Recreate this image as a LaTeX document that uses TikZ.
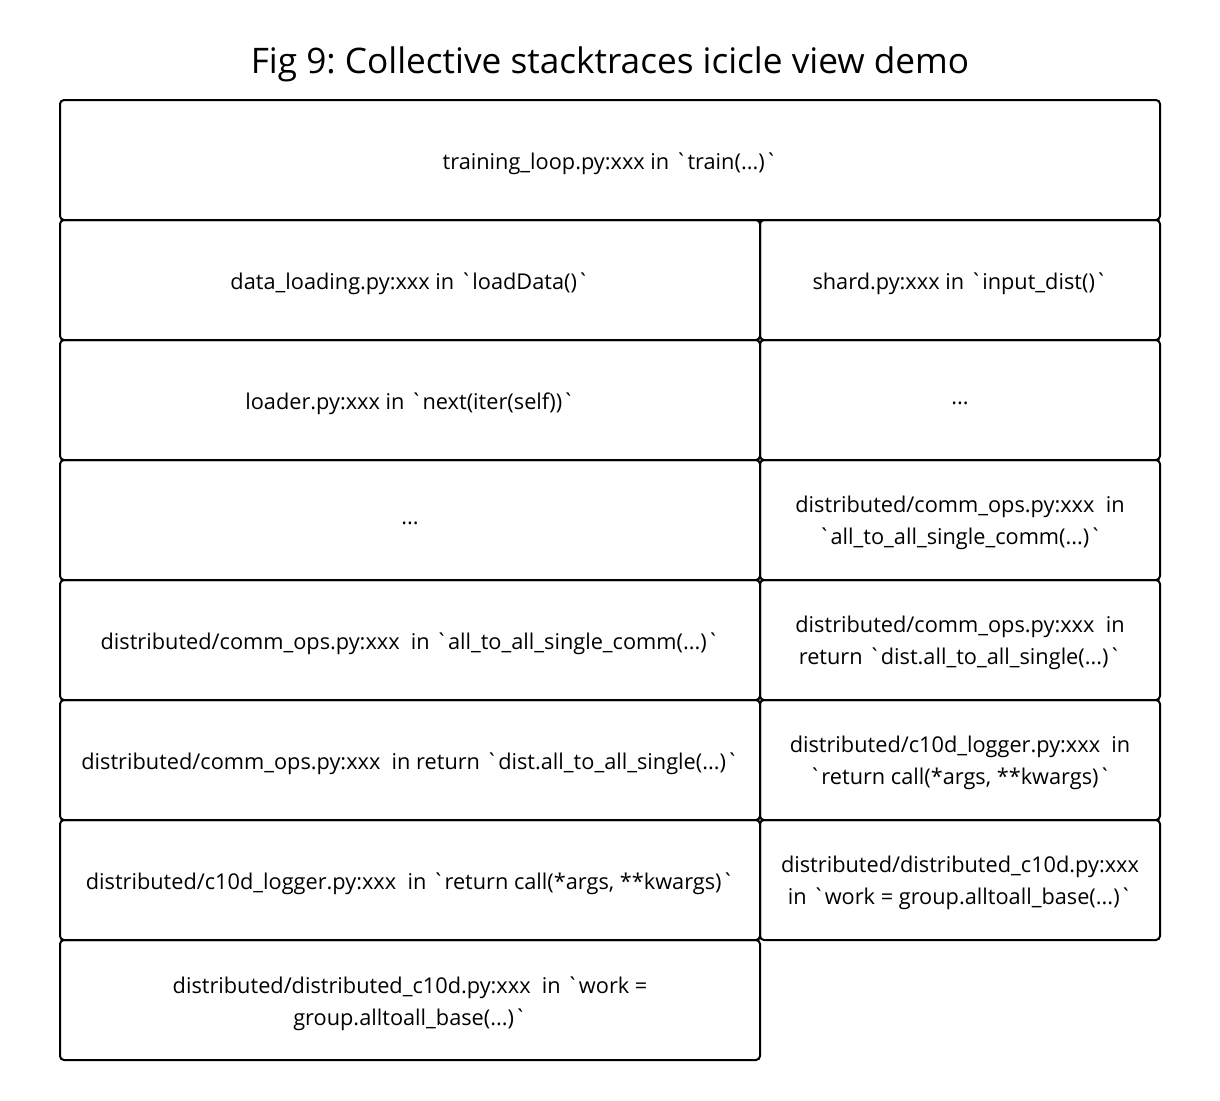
\documentclass[tikz,border=0pt]{standalone}
\usepackage{fontspec}
\setmainfont{Open Sans}[Ligatures=TeXOff]
\newcommand{\bq}{\char"60\relax}
\newcommand{\dsp}{\ \ }
\frenchspacing
\begin{document}
\begin{tikzpicture}[x=0.75pt,y=-0.75pt,
  frame/.style={draw=black,line width=1.5pt,rounded corners=3pt,rectangle,
    minimum height=90pt,inner sep=0pt},
  wide/.style={frame,minimum width=825pt},
  leftbox/.style={frame,minimum width=525pt},
  rightbox/.style={frame,minimum width=300pt},
  txt/.style={align=center,inner sep=0pt,yshift=-2.5pt,
    font=\fontsize{16.3pt}{24pt}\selectfont},
  titlestyle/.style={font=\fontsize{26.4pt}{30pt}\selectfont,inner sep=0pt}]
\useasboundingbox (0,0) rectangle (1220,1100);
\node[titlestyle] (title) at (610,64) {Fig 9: Collective stacktraces icicle view demo};
\node[wide] (train) at (610,160) {};
\node[leftbox] (l1) at (410,280) {};
\node[leftbox] (l2) at (410,400) {};
\node[leftbox] (l3) at (410,520) {};
\node[leftbox] (l4) at (410,640) {};
\node[leftbox] (l5) at (410,760) {};
\node[leftbox] (l6) at (410,880) {};
\node[leftbox] (l7) at (410,1000) {};
\node[rightbox] (r1) at (960,280) {};
\node[rightbox] (r2) at (960,400) {};
\node[rightbox] (r3) at (960,520) {};
\node[rightbox] (r4) at (960,640) {};
\node[rightbox] (r5) at (960,760) {};
\node[rightbox] (r6) at (960,880) {};
\node[txt] (traint) at (train.center) {training\_loop.py:xxx in \bq train(...)\bq};
\node[txt] (l1t) at (l1.center) {data\_loading.py:xxx in \bq loadData()\bq};
\node[txt] (l2t) at (l2.center) {loader.py:xxx in \bq next(iter(self))\bq};
\node[txt] (l3t) at (l3.center) {...};
\node[txt] (l4t) at (l4.center) {distributed/comm\_ops.py:xxx\dsp in \bq all\_to\_all\_single\_comm(...)\bq};
\node[txt] (l5t) at (l5.center) {distributed/comm\_ops.py:xxx\dsp in return \bq dist.all\_to\_all\_single(...)\bq};
\node[txt] (l6t) at (l6.center) {distributed/c10d\_logger.py:xxx\dsp in \bq return call(*args, **kwargs)\bq};
\node[txt] (l7t) at (l7.center) {distributed/distributed\_c10d.py:xxx\dsp in \bq work =\\group.alltoall\_base(...)\bq};
\node[txt] (r1t) at (r1.center) {shard.py:xxx in \bq input\_dist()\bq};
\node[txt] (r2t) at (r2.center) {...};
\node[txt] (r3t) at (r3.center) {distributed/comm\_ops.py:xxx\dsp in\\\bq all\_to\_all\_single\_comm(...)\bq};
\node[txt] (r4t) at (r4.center) {distributed/comm\_ops.py:xxx\dsp in\\return \bq dist.all\_to\_all\_single(...)\bq};
\node[txt] (r5t) at (r5.center) {distributed/c10d\_logger.py:xxx\dsp in\\\bq return call(*args, **kwargs)\bq};
\node[txt] (r6t) at (r6.center) {distributed/distributed\_c10d.py:xxx\\in \bq work = group.alltoall\_base(...)\bq};
\end{tikzpicture}
\end{document}
